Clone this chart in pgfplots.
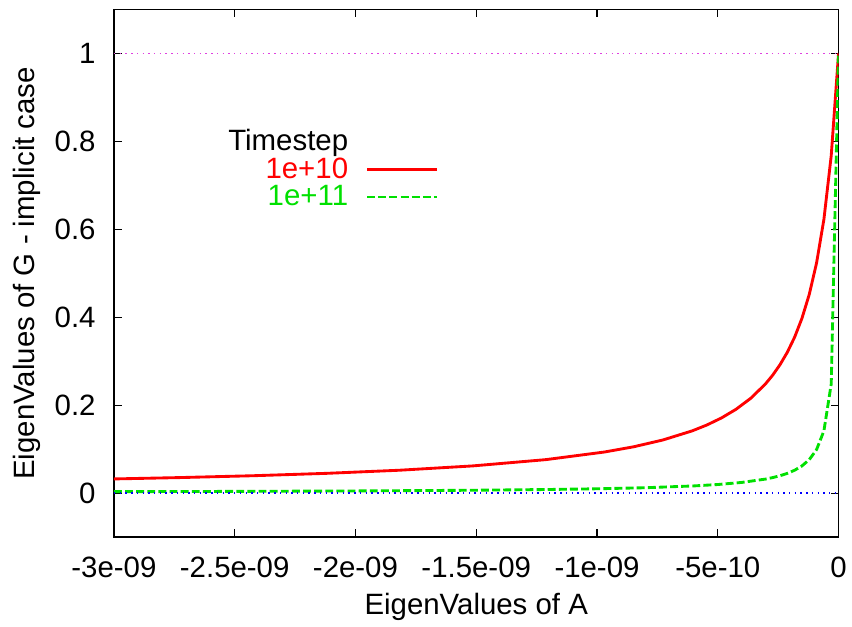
\documentclass[border=0pt]{standalone}
\usepackage{fontspec}
\setmainfont{Liberation Sans}
\usepackage{pgfplots}
\pgfplotsset{compat=1.18}
\definecolor{gRed}{HTML}{FF0000}
\definecolor{gGreen}{HTML}{00E000}
\definecolor{gPink}{HTML}{E040E0}
\definecolor{gBlue}{HTML}{0000FF}

\begin{document}
\begin{tikzpicture}
\begin{axis}[
    scale only axis,
    width=456pt, height=332pt,
    xmin=-30, xmax=0, ymin=-0.1, ymax=1.1,
    xtick={-30,-25,-20,-15,-10,-5,0},
    xticklabels={-3e-09,-2.5e-09,-2e-09,-1.5e-09,-1e-09,-5e-10,0},
    ytick={0,0.2,0.4,0.6,0.8,1},
    yticklabels={0,0.2,0.4,0.6,0.8,1},
    tick align=inside, major tick length=5pt,
    tick style={black, line width=0.7pt},
    axis line style={line width=0.8pt},
    font=\fontsize{18.5}{22}\selectfont,
    xticklabel style={yshift=-9pt},
    yticklabel style={xshift=-8pt},
    xlabel={EigenValues of A},
    ylabel={EigenValues of G - implicit case},
    xlabel style={yshift=-3pt},
    ylabel style={yshift=2pt},
    legend style={draw=none, fill=none, at={(0.455,0.785)}, anchor=north east,
        font=\fontsize{18.5}{22}\selectfont, row sep=-1pt},
    legend cell align=right,
    legend plot pos=right,
    legend image code/.code={\draw[#1] (10pt,0pt) -- (54pt,0pt);},
]
\addlegendimage{empty legend}
\addlegendentry{Timestep}
\addplot[color=gRed, line width=1.8pt] coordinates {
(-30,0.0323) (-27.27,0.0354) (-24.24,0.0396) (-21.21,0.0450) (-18.18,0.0521)
(-15.15,0.0619) (-12.12,0.0762) (-9.697,0.0935) (-8.485,0.1054) (-7.273,0.1209)
(-6.061,0.1416) (-5.455,0.1549) (-4.848,0.1710) (-4.242,0.1908) (-3.636,0.2157)
(-3.030,0.2481) (-2.727,0.2683) (-2.424,0.2921) (-2.121,0.3204) (-1.818,0.3548)
(-1.515,0.3976) (-1.212,0.4521) (-0.909,0.5238) (-0.606,0.6227) (-0.303,0.7675)
(0,1)
};
\addlegendentry{\textcolor{gRed}{1e+10}}
\addplot[color=gGreen, line width=1.8pt, dash pattern=on 5pt off 2pt] coordinates {
(-30,0.00332) (-25,0.00398) (-20,0.004975) (-15,0.00662) (-12,0.0083)
(-10,0.0099) (-8,0.0123) (-6,0.0164) (-5,0.0196) (-4,0.0244)
(-3.030,0.0319) (-2.727,0.0354) (-2.424,0.0396) (-2.121,0.0450) (-1.818,0.0521)
(-1.515,0.0619) (-1.212,0.0762) (-0.909,0.0991) (-0.606,0.1416) (-0.303,0.2481)
(0,1)
};
\addlegendentry{\textcolor{gGreen}{1e+11}}
\addplot[color=gPink, line width=0.9pt, dash pattern=on 0.9pt off 2.7pt, forget plot] coordinates {(-30,1) (0,1)};
\addplot[color=gBlue, line width=0.9pt, dash pattern=on 0.9pt off 2.7pt, forget plot] coordinates {(-30,0) (0,0)};
\end{axis}
\path ([yshift=6pt]current axis.north) -- ++(0,0);
\path (current bounding box.west) -- ++(-5pt,0);
\end{tikzpicture}
\end{document}
